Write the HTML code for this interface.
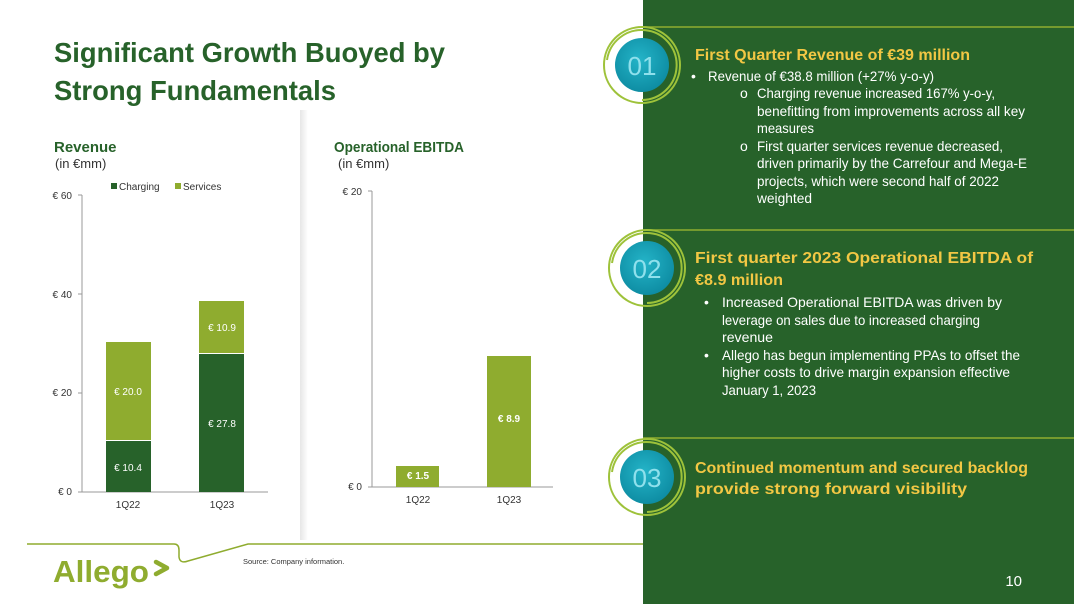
<!DOCTYPE html>
<html><head><meta charset="utf-8"><style>
html,body{margin:0;padding:0;background:#fff}
svg{display:block}
text{font-family:"Liberation Sans",sans-serif}
</style></head><body>
<svg width="1074" height="604" viewBox="0 0 1074 604" xmlns="http://www.w3.org/2000/svg">
<defs>
<radialGradient id="tg" cx="45%" cy="40%" r="60%"><stop offset="0" stop-color="#24b4c8"/><stop offset="1" stop-color="#0e8da3"/></radialGradient>
<linearGradient id="sh" x1="0" x2="1"><stop offset="0" stop-color="#e6e6e6"/><stop offset="1" stop-color="#fff"/></linearGradient>
</defs>
<rect x="643" y="0" width="431" height="604" fill="#27622a"/>
<rect x="300" y="110" width="8" height="430" fill="url(#sh)"/>
<text x="54" y="62" font-size="28" font-weight="bold" fill="#27622a" textLength="391" lengthAdjust="spacingAndGlyphs">Significant Growth Buoyed by</text>
<text x="54" y="100" font-size="28" font-weight="bold" fill="#27622a" textLength="282" lengthAdjust="spacingAndGlyphs">Strong Fundamentals</text>
<text x="54" y="152" font-size="15" font-weight="bold" fill="#27622a">Revenue</text>
<text x="55" y="168" font-size="13" fill="#333">(in €mm)</text>
<text x="334" y="152" font-size="15" font-weight="bold" fill="#27622a" textLength="130" lengthAdjust="spacingAndGlyphs">Operational EBITDA</text>
<text x="338" y="168" font-size="13" fill="#333">(in €mm)</text>
<g font-size="10" fill="#333">
<rect x="111" y="183" width="6" height="6" fill="#27622a"/><text x="119" y="190">Charging</text>
<rect x="175" y="183" width="6" height="6" fill="#8fac2f"/><text x="183" y="190">Services</text>
<text x="72" y="199" text-anchor="end">€ 60</text>
<text x="72" y="298" text-anchor="end">€ 40</text>
<text x="72" y="396" text-anchor="end">€ 20</text>
<text x="72" y="495" text-anchor="end">€ 0</text>
<text x="128" y="508" text-anchor="middle">1Q22</text>
<text x="222" y="508" text-anchor="middle">1Q23</text>
</g>
<g stroke="#999" stroke-width="1">
<line x1="82" y1="195" x2="82" y2="492"/><line x1="78" y1="195" x2="82" y2="195"/><line x1="78" y1="294" x2="82" y2="294"/><line x1="78" y1="393" x2="82" y2="393"/><line x1="78" y1="492" x2="268" y2="492"/>
</g>
<rect x="106" y="441" width="45" height="51" fill="#27622a"/>
<rect x="106" y="342" width="45" height="98" fill="#8fac2f"/>
<rect x="199" y="354" width="45" height="138" fill="#27622a"/>
<rect x="199" y="301" width="45" height="52" fill="#8fac2f"/>
<g font-size="10" fill="#fff" text-anchor="middle">
<text x="128" y="471">€ 10.4</text><text x="128" y="395">€ 20.0</text>
<text x="222" y="427">€ 27.8</text><text x="222" y="331">€ 10.9</text>
</g>
<g font-size="10" fill="#333">
<text x="362" y="195" text-anchor="end">€ 20</text>
<text x="362" y="490" text-anchor="end">€ 0</text>
<text x="418" y="503" text-anchor="middle">1Q22</text>
<text x="509" y="503" text-anchor="middle">1Q23</text>
</g>
<g stroke="#999" stroke-width="1">
<line x1="372" y1="191" x2="372" y2="487"/><line x1="368" y1="191" x2="372" y2="191"/><line x1="368" y1="487" x2="553" y2="487"/>
</g>
<rect x="396" y="466" width="43" height="21" fill="#8fac2f"/>
<rect x="487" y="356" width="44" height="131" fill="#8fac2f"/>
<g font-size="10" fill="#fff" text-anchor="middle" font-weight="bold">
<text x="418" y="479">€ 1.5</text><text x="509" y="422">€ 8.9</text>
</g>
<path d="M27 544 H174 Q179 544 179 550 V557 Q180 564 188 561 L248 544 H643" fill="none" stroke="#8fac2f" stroke-width="1.5"/>
<text x="243" y="564" font-size="7.5" fill="#333">Source:    Company information.</text>
<text x="53" y="582" font-size="31" font-weight="bold" fill="#8fac2f" textLength="96" lengthAdjust="spacingAndGlyphs">Allego</text>
<path d="M156 562 L167 568 L156 574" fill="none" stroke="#8fac2f" stroke-width="4.5" stroke-linecap="round" stroke-linejoin="round"/>
<text x="1022" y="586" font-size="15" fill="#fff" text-anchor="end">10</text>
<g stroke="#8fac2f" stroke-width="1.5">
<line x1="643" y1="27" x2="1074" y2="27"/><line x1="643" y1="230" x2="1074" y2="230"/><line x1="643" y1="438" x2="1074" y2="438"/>
</g>
<g fill="none" stroke="#9ec23a" stroke-width="2">
<circle cx="642" cy="65" r="38"/><path d="M607 60 A35 35 0 1 1 642 100"/>
<circle cx="647" cy="268" r="38"/><path d="M612 263 A35 35 0 1 1 647 303"/>
<circle cx="647" cy="477" r="38"/><path d="M612 472 A35 35 0 1 1 647 512"/>
</g>
<g font-size="26" fill="#8fe0ec" text-anchor="middle">
<circle cx="642" cy="65" r="27" fill="url(#tg)"/><text x="642" y="75">01</text>
<circle cx="647" cy="268" r="27" fill="url(#tg)"/><text x="647" y="278">02</text>
<circle cx="647" cy="477" r="27" fill="url(#tg)"/><text x="647" y="487">03</text>
</g>
<g font-size="16" font-weight="bold" fill="#f2c744">
<text x="695" y="60" textLength="275" lengthAdjust="spacingAndGlyphs">First Quarter Revenue of €39 million</text>
<text x="695" y="263" textLength="338" lengthAdjust="spacingAndGlyphs">First quarter 2023 Operational EBITDA of</text>
<text x="695" y="285" textLength="88" lengthAdjust="spacingAndGlyphs">€8.9 million</text>
<text x="695" y="473" textLength="333" lengthAdjust="spacingAndGlyphs">Continued momentum and secured backlog</text>
<text x="695" y="494" textLength="272" lengthAdjust="spacingAndGlyphs">provide strong forward visibility</text>
</g>
<g font-size="14" fill="#fff">
<text x="691" y="81">•</text>
<text x="708" y="81" textLength="226" lengthAdjust="spacingAndGlyphs">Revenue of €38.8 million (+27% y-o-y)</text>
<text x="740" y="98">o</text>
<text x="757" y="98" textLength="238" lengthAdjust="spacingAndGlyphs">Charging revenue increased 167% y-o-y,</text>
<text x="757" y="116" textLength="268" lengthAdjust="spacingAndGlyphs">benefitting from improvements across all key</text>
<text x="757" y="133" textLength="57" lengthAdjust="spacingAndGlyphs">measures</text>
<text x="740" y="151">o</text>
<text x="757" y="151" textLength="246" lengthAdjust="spacingAndGlyphs">First quarter services revenue decreased,</text>
<text x="757" y="168" textLength="270" lengthAdjust="spacingAndGlyphs">driven primarily by the Carrefour and Mega-E</text>
<text x="757" y="186" textLength="242" lengthAdjust="spacingAndGlyphs">projects, which were second half of 2022</text>
<text x="757" y="203" textLength="55" lengthAdjust="spacingAndGlyphs">weighted</text>
<text x="704" y="307">•</text>
<text x="722" y="307" font-size="14" textLength="280" lengthAdjust="spacingAndGlyphs">Increased Operational EBITDA was driven by</text>
<text x="722" y="325" textLength="258" lengthAdjust="spacingAndGlyphs">leverage on sales due to increased charging</text>
<text x="722" y="342" textLength="51" lengthAdjust="spacingAndGlyphs">revenue</text>
<text x="704" y="360">•</text>
<text x="722" y="360" textLength="298" lengthAdjust="spacingAndGlyphs">Allego has begun implementing PPAs to offset the</text>
<text x="722" y="377" textLength="288" lengthAdjust="spacingAndGlyphs">higher costs to drive margin expansion effective</text>
<text x="722" y="395" textLength="94" lengthAdjust="spacingAndGlyphs">January 1, 2023</text>
</g>
</svg>
</body></html>
